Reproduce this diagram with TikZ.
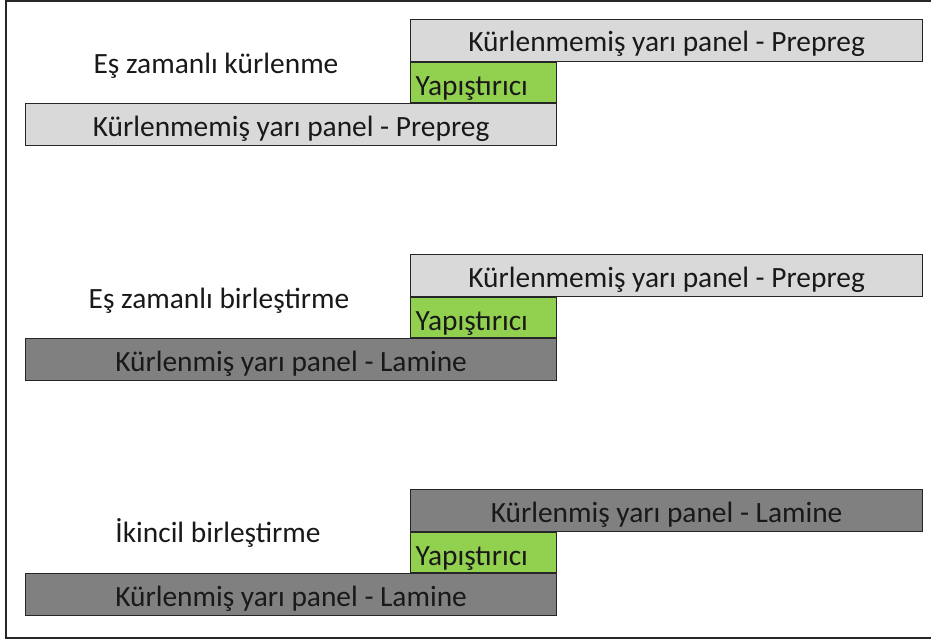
\documentclass[tikz,border=0pt]{standalone}
\usepackage{fontspec}
\setmainfont{Carlito}
\usetikzlibrary{positioning}
\definecolor{lightpanel}{RGB}{217,217,217}
\definecolor{darkpanel}{RGB}{128,128,128}
\definecolor{gluegreen}{RGB}{146,208,80}
\definecolor{framegray}{RGB}{38,38,38}

\begin{document}
\begin{tikzpicture}[
    x=0.5pt, y=-0.5pt,
    font=\fontsize{14.7}{17}\selectfont,
    panel/.style={rectangle, draw=black!85, line width=0.6pt, inner sep=0pt, minimum height=21pt, text=black!90, text height=14.8pt, text depth=3pt},
    lowpanel/.style={panel, minimum width=265.5pt},
    uppanel/.style={panel, minimum width=256pt},
    glue/.style={panel, fill=gluegreen, minimum height=20pt, text width=68pt, inner xsep=2.5pt, align=left, text height=16.4pt},
    title/.style={text=black!90, text height=14.8pt, text depth=3pt},
    node distance=0pt
]
    \useasboundingbox (0,0) rectangle (931,642);

    % Frame (right side cut off)
    \draw[framegray, line width=1pt] (931,1) -- (6,1) -- (6,638) -- (931,638);

    % Eş zamanlı kürlenme
    \node[lowpanel, fill=lightpanel, anchor=north west] (lowA) at (25,103) {Kürlenmemiş yarı panel - Prepreg};
    \node[glue, above=of lowA.north east, anchor=south east] (glueA) {Yapıştırıcı};
    \node[uppanel, fill=lightpanel, above=of glueA.north west, anchor=south west] (upA) {Kürlenmemiş yarı panel - Prepreg};
    \node[title] (titleA) at (216,62) {Eş zamanlı kürlenme};

    % Eş zamanlı birleştirme
    \node[lowpanel, fill=darkpanel, anchor=north west] (lowB) at (25,338) {Kürlenmiş yarı panel - Lamine};
    \node[glue, above=of lowB.north east, anchor=south east] (glueB) {Yapıştırıcı};
    \node[uppanel, fill=lightpanel, above=of glueB.north west, anchor=south west] (upB) {Kürlenmemiş yarı panel - Prepreg};
    \node[title] (titleB) at (219,297) {Eş zamanlı birleştirme};

    % İkincil birleştirme
    \node[lowpanel, fill=darkpanel, anchor=north west] (lowC) at (25,573) {Kürlenmiş yarı panel - Lamine};
    \node[glue, above=of lowC.north east, anchor=south east] (glueC) {Yapıştırıcı};
    \node[uppanel, fill=darkpanel, above=of glueC.north west, anchor=south west] (upC) {Kürlenmiş yarı panel - Lamine};
    \node[title] (titleC) at (218,531) {İkincil birleştirme};
\end{tikzpicture}
\end{document}
